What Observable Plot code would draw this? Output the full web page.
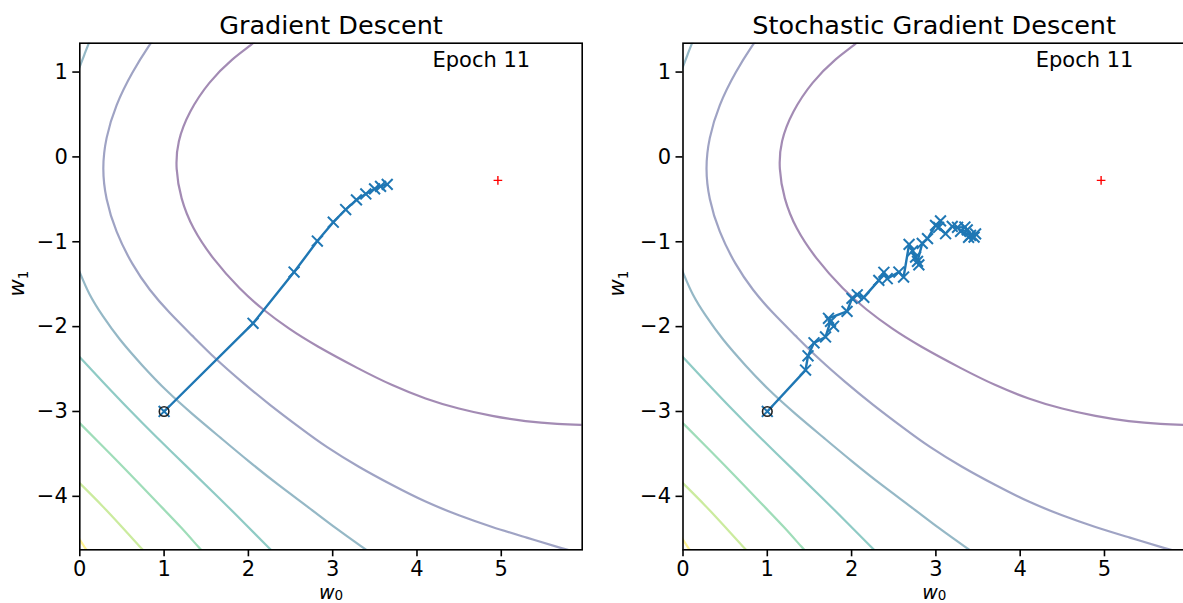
<!DOCTYPE html>
<html>
<head>
<meta charset="utf-8">
<script src="https://cdn.jsdelivr.net/npm/d3@7"></script>
<script src="https://cdn.jsdelivr.net/npm/@observablehq/plot@0.6"></script>
<style>
  html, body { margin: 0; padding: 0; background: #fff; overflow: hidden; }
  #figure { position: relative; width: 1183px; height: 603px; }
  #figure > div { position: absolute; top: 0; }
  #figure svg { max-width: none !important; display: block; }
</style>
</head>
<body>
<div id="figure"><div id="gd"></div><div id="sgd"></div></div>
<script>
// Axis ticks
const w0Ticks = [0, 1, 2, 3, 4, 5];
const w1Ticks = [-4, -3, -2, -1, 0, 1];
const epoch = 11;

// Loss contours as (w0, w1) polylines; one entry per connected piece of a level.
const contourLevel = [1, 2, 3, 3, 4, 5, 6, 7];
const contourW0 = [
  [2.120, 2.065, 1.808, 1.531, 1.293, 1.156, 1.136, 1.195, 1.334, 1.571, 1.907, 2.164, 2.480, 2.797, 3.310, 3.707, 4.102, 4.497, 4.893, 5.288, 5.683, 5.961, 6.119],
  [0.910, 0.839, 0.622, 0.424, 0.305, 0.266, 0.305, 0.424, 0.622, 0.827, 1.056, 1.334, 1.610, 1.927, 2.243, 2.639, 2.915, 3.310, 3.707, 4.102, 4.497, 4.893, 5.288, 5.763, 5.941],
  [-0.039, 0.000, 0.050, 0.107, 0.145],
  [-0.051, 0.000, 0.107, 0.266, 0.463, 0.740, 1.029, 1.337, 1.649, 2.002, 2.358, 2.714, 3.034, 3.382, 3.473],
  [-0.063, 0.000, 0.266, 0.581, 0.874, 1.325, 1.646, 1.966, 2.263, 2.310],
  [-0.063, 0.000, 0.266, 0.581, 0.937, 1.215, 1.432, 1.480],
  [-0.063, 0.000, 0.266, 0.503, 0.738, 0.791],
  [-0.063, 0.000, 0.068, 0.115]
];
const contourW1 = [
  [1.408, 1.340, 1.160, 0.886, 0.532, 0.179, -0.135, -0.489, -0.842, -1.195, -1.572, -1.793, -2.028, -2.224, -2.499, -2.695, -2.853, -2.971, -3.056, -3.119, -3.151, -3.159, -3.163],
  [1.431, 1.340, 1.004, 0.610, 0.218, -0.135, -0.489, -0.881, -1.274, -1.572, -1.832, -2.106, -2.382, -2.656, -2.915, -3.212, -3.414, -3.656, -3.869, -4.069, -4.226, -4.364, -4.482, -4.627, -4.670],
  [0.972, 1.062, 1.196, 1.340, 1.431],
  [-1.243, -1.360, -1.620, -1.870, -2.146, -2.459, -2.762, -3.033, -3.292, -3.587, -3.870, -4.129, -4.376, -4.620, -4.682],
  [-2.291, -2.362, -2.644, -2.974, -3.269, -3.704, -4.011, -4.329, -4.627, -4.670],
  [-3.074, -3.139, -3.404, -3.722, -4.093, -4.376, -4.627, -4.670],
  [-3.784, -3.846, -4.108, -4.364, -4.623, -4.670],
  [-4.423, -4.509, -4.620, -4.670]
];

// Full-batch gradient descent, one point per epoch
const gdW0 = [1.000, 2.055, 2.542, 2.818, 3.007, 3.154, 3.282, 3.393, 3.497, 3.568, 3.647];
const gdW1 = [-3.000, -1.961, -1.357, -0.992, -0.769, -0.620, -0.506, -0.436, -0.377, -0.347, -0.324];

// Stochastic gradient descent, one point per update
const sgdW0 = [1.000, 1.454, 1.483, 1.554, 1.691, 1.750, 1.786, 1.726, 1.946, 2.005, 2.067, 2.145, 2.323, 2.383, 2.423, 2.561, 2.617, 2.682, 2.724, 2.798, 2.759, 2.782, 2.838, 2.901, 2.996, 3.055, 3.032, 3.115, 3.194, 3.257, 3.344, 3.372, 3.293, 3.411, 3.453, 3.388, 3.471];
const sgdW1 = [-3.000, -2.512, -2.344, -2.191, -2.122, -1.938, -1.996, -1.902, -1.820, -1.667, -1.625, -1.655, -1.455, -1.360, -1.435, -1.357, -1.416, -1.031, -1.107, -1.272, -1.180, -1.231, -1.019, -0.963, -0.807, -0.754, -0.831, -0.905, -0.819, -0.830, -0.827, -0.860, -0.877, -0.925, -0.945, -0.948, -0.907];

// Optimal weights
const optimumW0 = 4.96;
const optimumW1 = -0.277;

const contourRows = contourLevel.flatMap((level, i) =>
  contourW0[i].map((w0, j) => ({piece: i, level, w0, w1: contourW1[i][j]})));

const blue = "#1f77b4";
const fmt = d3.format("d");

// Axis label "w" with a lowered, smaller subscript digit
function subscriptLabel(svg, label, digit, shift) {
  d3.select(svg).selectAll("text")
    .filter(function () { return this.textContent === label; })
    .each(function () {
      const t = d3.select(this).text(null);
      t.append("tspan").attr("font-style", "italic").text("w");
      t.append("tspan").attr("font-size", 13.5).attr("dy", shift).text(digit);
    });
}

function panel({title, w0s, w1s, width, marginLeft, marginRight}) {
  const path = w0s.map((w0, i) => ({w0, w1: w1s[i]}));
  const svg = Plot.plot({
    width,
    height: 603,
    marginLeft,
    marginRight,
    marginTop: 42.7,
    marginBottom: 53.7,
    x: {domain: [0, 5.96]},
    y: {domain: [-4.63, 1.34]},
    color: {type: "linear", scheme: "viridis", domain: [0.6, 7]},
    style: {fontFamily: "DejaVu Sans", fontSize: "21px", color: "black", background: "white"},
    marks: [
      Plot.line(contourRows, {x: "w0", y: "w1", z: "piece", stroke: "level", strokeOpacity: 0.5, strokeWidth: 2.2, curve: "basis", clip: true}),
      Plot.line(path, {x: "w0", y: "w1", stroke: blue, strokeWidth: 2.4}),
      Plot.dot(path, {x: "w0", y: "w1", symbol: "times", r: 5.0, stroke: blue, strokeWidth: 2}),
      Plot.dot([path[0]], {x: "w0", y: "w1", r: 4.8, stroke: "#222", strokeWidth: 1.6, fill: "none"}),
      Plot.dot([{w0: optimumW0, w1: optimumW1}], {x: "w0", y: "w1", symbol: "plus", r: 2.9, stroke: "red", strokeWidth: 1.4}),
      Plot.frame({stroke: "black", strokeWidth: 1.6}),
      Plot.axisX(w0Ticks, {tickSize: 7, tickPadding: 4, strokeWidth: 1.6, tickFormat: fmt, label: null, fontSize: 21}),
      Plot.axisY(w1Ticks, {tickSize: 7, tickPadding: 5, strokeWidth: 1.6, tickFormat: fmt, label: null, fontSize: 21}),
      Plot.text([title], {text: d => d, frameAnchor: "top", lineAnchor: "bottom", dy: -9.4, fontSize: 25.5}),
      Plot.text([`Epoch ${epoch}`], {text: d => d, frameAnchor: "top-right", textAnchor: "end", lineAnchor: "top", dx: -52, dy: 8.7, fontSize: 21}),
      Plot.text(["w0"], {text: d => d, frameAnchor: "bottom", lineAnchor: "bottom", dy: 48.7, fontSize: 19}),
      Plot.text(["w1"], {text: d => d, frameAnchor: "left", lineAnchor: "middle", rotate: -90, dx: -(marginLeft - 17), fontSize: 21})
    ]
  });
  subscriptLabel(svg, "w0", "0", 1.5);
  subscriptLabel(svg, "w1", "1", 4);
  return svg;
}

const left = document.getElementById("gd");
left.style.left = "0px";
left.append(panel({title: "Gradient Descent", w0s: gdW0, w1s: gdW1, width: 600, marginLeft: 79.3, marginRight: 18.3}));

const right = document.getElementById("sgd");
right.style.left = "600px";
right.append(panel({title: "Stochastic Gradient Descent", w0s: sgdW0, w1s: sgdW1, width: 590, marginLeft: 82.5, marginRight: 5.1}));
</script>
</body>
</html>
